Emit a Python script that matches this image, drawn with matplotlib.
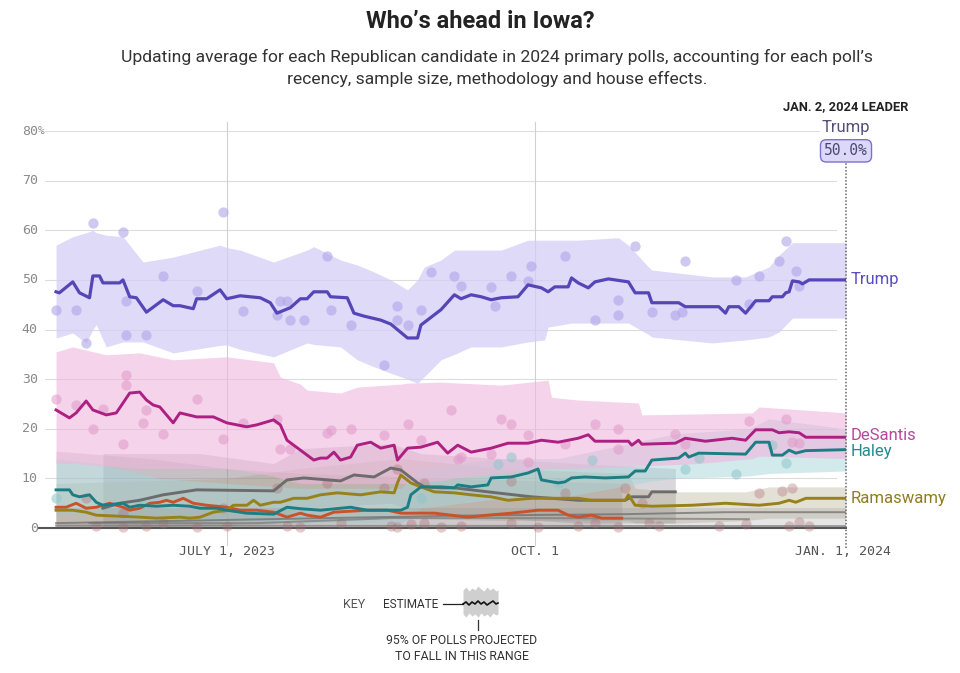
import matplotlib
matplotlib.use("Agg")
import matplotlib.pyplot as plt
import pandas as pd

plt.rcParams['font.family'] = ['Roboto', 'DejaVu Sans']

START = pd.Timestamp('2023-05-11')   # first day of the averages

# --- polling averages: days since START, percent ---
trump_day = [0, 1, 5, 7, 10, 11, 13, 14, 19, 20, 22, 24, 27, 32, 35, 37, 41, 42, 45, 49,
             51, 55, 61, 64, 66, 70, 73, 75, 77, 81, 82, 87, 89, 92, 97, 100, 105, 108, 109, 115,
             119, 121, 124, 127, 130, 133, 138, 141, 145, 147, 149, 153, 154, 156, 159, 161, 165, 171, 173, 177,
             178, 186, 188, 198, 200, 201, 204, 206, 209, 213, 214, 217, 218, 219, 220, 222, 223, 225, 236]
trump_val = [47.6, 47.4, 49.6, 47.4, 46.4, 50.8, 50.8, 49.4, 49.4, 50.0, 46.6, 46.4, 43.5, 46.0, 44.8, 44.8, 44.2, 46.2, 46.2, 48.0,
             46.2, 46.8, 46.4, 45.4, 43.3, 44.4, 46.2, 46.2, 47.6, 47.6, 46.6, 46.4, 43.3, 42.7, 41.9, 41.1, 38.3, 38.3, 40.9, 44.0,
             47.0, 46.2, 47.0, 46.6, 46.0, 46.4, 46.6, 49.0, 48.4, 47.6, 48.6, 48.6, 50.4, 49.4, 48.4, 49.6, 50.2, 49.6, 47.4, 47.4,
             45.4, 45.4, 44.6, 44.6, 43.3, 44.6, 44.6, 43.3, 45.8, 45.8, 46.6, 46.6, 47.4, 47.6, 49.8, 49.6, 49.2, 50.0, 50.0]

desantis_day = [0, 4, 6, 9, 11, 15, 18, 20, 22, 25, 27, 29, 31, 33, 35, 37, 42, 47, 51, 57,
                60, 65, 67, 69, 73, 77, 79, 81, 83, 85, 88, 90, 94, 97, 101, 102, 105, 109, 114, 117,
                120, 124, 130, 135, 141, 145, 150, 153, 156, 159, 161, 171, 172, 174, 175, 185, 188, 194, 202, 206,
                209, 214, 216, 219, 222, 224, 236]
desantis_val = [23.8, 22.2, 23.2, 25.6, 23.8, 22.8, 23.2, 25.2, 27.2, 27.4, 25.8, 24.8, 24.4, 22.8, 21.2, 23.2, 22.4, 22.4, 21.2, 20.4,
                20.8, 21.8, 20.8, 17.7, 15.7, 13.7, 14.1, 14.1, 15.3, 13.7, 14.3, 16.7, 17.3, 16.1, 16.7, 13.7, 16.1, 16.3, 17.3, 15.1,
                16.7, 15.3, 16.1, 17.1, 17.1, 17.7, 17.3, 17.7, 18.1, 18.8, 17.5, 17.5, 16.7, 17.7, 16.9, 17.1, 18.1, 17.5, 18.1, 17.7,
                19.8, 19.8, 19.2, 19.4, 19.2, 18.3, 18.3]

haley_day = [0, 4, 5, 7, 10, 12, 14, 20, 22, 25, 30, 35, 40, 43, 48, 51, 57, 65, 69, 73,
             79, 88, 93, 103, 105, 106, 109, 115, 119, 120, 124, 129, 130, 136, 141, 144, 145, 150, 152, 154,
             158, 164, 171, 173, 176, 178, 186, 188, 189, 192, 206, 209, 213, 214, 217, 219, 221, 224, 236]
haley_val = [7.7, 7.7, 6.7, 6.3, 6.7, 5.2, 4.6, 5.0, 4.2, 4.6, 4.4, 4.6, 4.4, 4.0, 4.0, 3.6, 3.0, 2.8, 4.2, 3.9,
             3.6, 4.2, 3.6, 3.6, 4.2, 6.7, 8.3, 8.3, 8.1, 8.7, 8.3, 8.7, 10.1, 10.3, 11.1, 11.9, 9.7, 9.1, 9.3, 10.1,
             10.3, 10.1, 10.3, 11.5, 11.5, 13.7, 14.1, 15.1, 14.3, 15.1, 14.9, 17.3, 17.3, 14.7, 14.7, 15.7, 15.1, 15.6, 15.8]

rama_day = [0, 5, 9, 12, 25, 30, 37, 40, 43, 47, 51, 53, 57, 59, 61, 65, 67, 71, 75, 79,
            84, 91, 97, 101, 102, 103, 106, 109, 113, 119, 124, 130, 135, 142, 148, 156, 160, 170, 171, 173,
            178, 190, 200, 210, 216, 219, 221, 224, 236]
rama_val = [3.6, 3.6, 3.2, 2.6, 2.2, 2.0, 2.2, 2.0, 2.2, 3.2, 3.6, 4.6, 4.6, 5.6, 4.6, 5.2, 5.2, 6.0, 6.0, 6.7,
            7.1, 6.7, 7.3, 7.1, 9.1, 10.7, 9.1, 8.3, 7.3, 7.1, 6.7, 6.3, 5.6, 6.0, 6.0, 6.0, 5.6, 5.6, 6.7, 4.6,
            4.4, 4.6, 5.0, 4.6, 5.0, 5.6, 5.2, 6.0, 6.0]

scott_day = [14, 19, 25, 32, 42, 65, 69, 74, 85, 89, 95, 100, 103, 108, 110, 115, 119, 129, 142, 156,
             170, 172, 177, 178, 185]
scott_val = [4.0, 5.0, 5.6, 6.7, 7.7, 7.5, 9.7, 10.1, 9.5, 10.7, 10.3, 12.1, 11.7, 9.1, 8.3, 8.1, 8.1, 7.3, 6.3, 5.6,
             5.6, 6.3, 6.3, 7.3, 7.3]

pence_day = [0, 3, 6, 9, 12, 16, 20, 22, 25, 28, 31, 33, 35, 38, 41, 45, 51, 55, 60, 65,
             69, 73, 75, 79, 83, 93, 99, 103, 113, 123, 129, 136, 144, 150, 153, 156, 160, 163, 169]
pence_val = [4.2, 4.2, 5.0, 4.0, 4.2, 5.0, 4.2, 3.6, 4.0, 5.0, 5.2, 5.6, 5.2, 6.0, 5.0, 4.6, 4.2, 3.6, 3.6, 3.2,
             2.2, 3.0, 2.6, 2.2, 3.2, 3.6, 3.6, 3.0, 3.0, 2.2, 2.6, 3.0, 3.6, 3.6, 2.6, 2.2, 2.6, 2.0, 2.0]

christie_day = [0, 40, 80, 120, 170, 200, 236]
christie_val = [1.0, 1.5, 2.0, 2.5, 2.8, 3.2, 3.2]
burgum_day = [10, 60, 100, 150, 207]
burgum_val = [1.0, 1.0, 2.0, 2.0, 1.8]
hutch_day = [0, 236]
hutch_val = [0.5, 0.4]

# --- 95% ranges: days, upper, lower ---
trump_band_day = [0, 5, 9, 11, 12, 15, 20, 26, 35, 49, 51, 55, 65, 75, 77, 85, 90, 95, 100, 105,
                  108, 110, 115, 119, 124, 133, 141, 146, 147, 154, 156, 168, 171, 177, 178, 196, 206, 213, 216, 220, 236]
trump_band_hi = [57, 58.7, 59.5, 60, 59.5, 59, 58.7, 53.6, 54.6, 57, 56.5, 56, 53.6, 56, 56.7, 54, 53, 51.6, 50, 48,
                 50, 52.6, 54, 56, 56, 56, 58, 58, 58, 58, 58, 58.5, 57, 52.6, 52, 50.6, 50.6, 52.6, 55, 57.5, 57.5]
trump_band_lo = [38.3, 39.3, 37.3, 40, 41, 36.5, 37.5, 37.5, 35.3, 36.8, 36.9, 36, 34.5, 37.3, 37, 36.5, 33.9, 32.5, 31.2, 30,
                 29.2, 30.5, 33.9, 35, 36.5, 36.5, 37.5, 37.9, 40.5, 41.3, 41.3, 41.3, 41.3, 39, 38.5, 37.3, 37.9, 38.5, 39.5, 42.3, 42.3]

desantis_band_day = [0, 5, 15, 25, 35, 51, 65, 67, 73, 75, 85, 90, 103, 105, 115, 118, 133, 147, 148, 150,
                     156, 174, 175, 192, 208, 210, 236]
desantis_band_hi = [35.5, 36.5, 34.9, 35.3, 33.9, 34.5, 33.3, 30.4, 29, 27.8, 27.2, 28.4, 29, 29.2, 29.4, 29.3, 28.8, 29.8, 26.4, 26.2,
                    25.8, 25.2, 22.8, 23, 23.2, 24.4, 23.2]
desantis_band_lo = [13, 13, 12.5, 12, 12, 12, 10.5, 10, 9, 9, 9, 9, 9, 9, 9.5, 10, 11, 12, 12, 12,
                    12, 12.5, 12.5, 13, 14, 14.5, 14]

haley_band_day = [0, 13, 19, 31, 51, 73, 103, 106, 109, 133, 150, 178, 185, 207, 213, 236]
haley_band_hi = [14, 13, 12, 10, 9, 8, 8, 10, 12, 14, 14, 18, 19, 20, 22, 20]
haley_band_lo = [3, 2.5, 2, 1.5, 1, 1, 1, 2, 4, 6, 6, 9.5, 10, 10.5, 11, 11.5]

rama_band_day = [0, 51, 73, 103, 133, 171, 173, 185, 206, 213, 236]
rama_band_hi = [9, 10, 12, 14, 12, 11, 8, 7.3, 7.3, 8.3, 8.3]
rama_band_lo = [0, 0.5, 1, 2, 1.5, 1.5, 1, 1, 1.5, 2, 2]

scott_band_day = [14, 43, 65, 73, 100, 109, 133, 156, 185]
scott_band_hi = [15, 15, 13, 16, 17, 15, 14, 13, 12]
scott_band_lo = [0, 0.5, 1, 4, 5, 3, 2, 1, 1]

pence_band_day = [0, 28, 51, 73, 120, 169]
pence_band_hi = [15.5, 14, 12, 11, 10, 9]
pence_band_lo = [0, 0, 0, 0, 0, 0]

# --- individual polls ---
trump_poll_day = [0, 6, 9, 11, 20, 21, 21, 27, 32, 42, 50, 56, 66, 67, 69, 70, 74, 81, 82, 88,
                  98, 102, 102, 105, 109, 112, 119, 121, 130, 131, 136, 141, 142, 152, 161, 168, 168, 173, 178, 185,
                  187, 188, 203, 207, 210, 216, 218, 221, 222]
trump_poll_val = [44, 44, 37.3, 61.5, 59.7, 45.8, 38.9, 38.9, 50.8, 47.8, 63.7, 43.8, 43, 45.8, 45.8, 41.9, 41.9, 54.8, 44, 40.9,
                  32.9, 44.8, 41.9, 40.9, 44, 51.6, 50.8, 48.8, 48.6, 44.8, 50.8, 49.8, 52.8, 54.8, 41.9, 46, 42.9, 56.9, 43.5, 42.9,
                  43.5, 53.8, 50, 45.2, 50.8, 53.8, 57.9, 51.8, 48.8]
desantis_poll_day = [0, 6, 11, 14, 20, 21, 21, 26, 27, 32, 42, 50, 56, 66, 67, 70, 81, 82, 88, 98,
                     105, 109, 118, 120, 121, 130, 133, 136, 141, 141, 152, 161, 168, 168, 185, 188, 207, 218, 220, 222]
desantis_poll_val = [26, 24.8, 20, 24, 16.9, 30.8, 28.8, 21.2, 23.8, 19, 26, 17.9, 21.2, 22, 15.9, 15.9, 19.2, 19.8, 20, 18.8,
                     21, 17.7, 23.8, 13.9, 14.3, 14.9, 22, 21, 18.8, 13.3, 16.9, 21, 20, 15.9, 19, 16.9, 21.6, 22, 17.3, 17.1]
haley_poll_day = [0, 25, 73, 109, 132, 136, 150, 160, 188, 192, 203, 214, 218]
haley_poll_val = [6, 5, 3, 6, 12.9, 14.3, 9, 13.7, 11.9, 14.1, 10.9, 16.7, 13.1]
other_poll_day = [9, 12, 20, 20, 27, 32, 42, 50, 51, 66, 69, 73, 81, 85, 98, 100, 102, 102, 106, 110,
                  110, 115, 121, 136, 136, 144, 152, 156, 161, 168, 170, 175, 177, 180, 198, 206, 210, 217, 219, 220,
                  222, 225]
other_poll_val = [6, 0.5, 3, 0.3, 0.5, 1, 0.3, 4, 0.5, 8, 0.5, 0.3, 9, 1, 8, 0.5, 12, 0.3, 0.8, 9,
                  1, 0.3, 0.5, 9.5, 1, 0.3, 7, 0.5, 1, 0.3, 8, 5, 1, 0.5, 0.5, 0.8, 7, 7.5, 0.5, 8,
                  1.2, 0.5]

y_ticks = [0, 10, 20, 30, 40, 50, 60, 70, 80]
x_ticks = ['2023-07-01', '2023-10-01', '2024-01-01']
x_tick_labels = ['JULY 1, 2023', 'OCT. 1', 'JAN. 1, 2024']
LEADER_DAY = '2024-01-02'

# key glyph (pixel units of the key box)
key_x = [463, 466, 469, 472, 475, 478, 481, 484, 487, 490, 493, 496, 498]
key_hi = [590, 587, 591, 588, 590, 586, 589, 591, 587, 590, 588, 591, 590]
key_lo = [614, 617, 613, 616, 614, 617, 613, 616, 614, 617, 613, 615, 614]
key_mid = [604, 602, 605, 602, 604, 601, 604, 602, 605, 603, 601, 604, 603]

PURPLE = '#5546b8'
MAGENTA = '#ad1f80'
TEAL = '#1d7d84'
OLIVE = '#97821a'
GREY = '#6c6c6c'
ORANGE = '#c8532a'


def d(days):
    return START + pd.to_timedelta(days, unit='D')


fig = plt.figure(figsize=(9.6, 6.73), dpi=100)
ax = fig.add_axes([45 / 960, 1 - 538 / 673, 801 / 960, 407 / 673])
ax.set_xlim(d(-3.3), d(236))
ax.set_ylim(-2, 80)
ax.axis('off')

# grid
for y in y_ticks[1:]:
    ax.plot([d(-3.3), d(233)], [y, y], color='#dcdcdc', lw=0.8, zorder=0)
for t in x_ticks[:2]:
    ax.plot([pd.Timestamp(t)] * 2, [-3.4, 81.9], color='#d0d0d0', lw=0.8, zorder=0, clip_on=False)
ax.plot([d(-5), d(236)], [0, 0], color='#555555', lw=1.5, zorder=1.5, clip_on=False)

# ranges
bands = [
    (pence_band_day, pence_band_lo, pence_band_hi, '#a88f9a', 0.32),
    (scott_band_day, scott_band_lo, scott_band_hi, '#8a8590', 0.32),
    (rama_band_day, rama_band_lo, rama_band_hi, '#a8a080', 0.32),
    (haley_band_day, haley_band_lo, haley_band_hi, '#a6d6da', 0.5),
    (desantis_band_day, desantis_band_lo, desantis_band_hi, '#efb6dc', 0.6),
    (trump_band_day, trump_band_lo, trump_band_hi, '#d4cef6', 0.75),
]
for day, lo, hi, c, a in bands:
    ax.fill_between(d(day), lo, hi, color=c, alpha=a, lw=0, zorder=1)
ax.fill_between(d([0, 236]), [0, 0], [4, 4], color='#8c8c8c', alpha=0.22, lw=0, zorder=1)

# polls
ax.scatter(d(other_poll_day), other_poll_val, s=55, color='#b06a72', alpha=0.35, lw=0, zorder=2, clip_on=False)
ax.scatter(d(haley_poll_day), haley_poll_val, s=55, color='#8fc6cb', alpha=0.55, lw=0, zorder=2)
ax.scatter(d(desantis_poll_day), desantis_poll_val, s=55, color='#e09aca', alpha=0.55, lw=0, zorder=2)
ax.scatter(d(trump_poll_day), trump_poll_val, s=55, color='#b0a6ea', alpha=0.6, lw=0, zorder=2)

# averages
ax.plot(d(hutch_day), hutch_val, color='#7a7a7a', lw=1.4, alpha=0.7, zorder=3)
ax.plot(d(burgum_day), burgum_val, color='#7a7a7a', lw=1.4, alpha=0.7, zorder=3)
ax.plot(d(christie_day), christie_val, color='#6a6a6a', lw=1.4, alpha=0.7, zorder=3)
ax.plot(d(pence_day), pence_val, color=ORANGE, lw=2.1, zorder=3)
ax.plot(d(scott_day), scott_val, color=GREY, lw=2.1, zorder=3)
ax.plot(d(rama_day), rama_val, color=OLIVE, lw=2.1, zorder=3)
ax.plot(d(haley_day), haley_val, color=TEAL, lw=2.1, zorder=3)
ax.plot(d(desantis_day), desantis_val, color=MAGENTA, lw=2.1, zorder=3)
ax.plot(d(trump_day), trump_val, color=PURPLE, lw=2.3, zorder=3)

# end labels (small vertical nudges keep DeSantis/Haley apart)
for name, vals, c, dy in [('Trump', trump_val, '#5a4fc0', 0), ('DeSantis', desantis_val, '#b6489c', 1.5),
                          ('Haley', haley_val, '#268891', -1.5), ('Ramaswamy', rama_val, '#8f7d20', 0)]:
    ax.annotate(name, xy=(pd.Timestamp(LEADER_DAY), vals[-1]), xytext=(3, dy),
                textcoords='offset points', ha='left', va='center', fontsize=12, color=c)

# y tick labels
ytr = ax.get_yaxis_transform()
for y in y_ticks:
    ax.text(-0.009, y, str(y), transform=ytr, ha='right', va='center',
            fontsize=9.5, color='#8a8a8a', family='DejaVu Sans Mono')
ax.text(-0.009, 80, '%', transform=ytr, ha='left', va='center',
        fontsize=8, color='#8a8a8a', family='DejaVu Sans Mono')

# x tick labels
for t, lab in zip(x_ticks, x_tick_labels):
    ax.text(pd.Timestamp(t), -4.7, lab, ha='center', va='center', fontsize=9.5,
            color='#555555', family='DejaVu Sans Mono', clip_on=False)

# leader marker
lead = pd.Timestamp(LEADER_DAY)
ax.plot([lead] * 2, [-4, 78], color='#666666', lw=1.1, ls=(0, (1, 1.2)), zorder=4, clip_on=False)
ax.text(lead, 84.9, 'JAN. 2, 2024 LEADER', ha='center', va='center', fontsize=9.3,
        fontweight='bold', color='#222222')
ax.text(lead, 80.8, 'Trump', ha='center', va='center', fontsize=12, color='#55507a',
        bbox=dict(boxstyle='square,pad=0.1', fc='white', ec='none'))
ax.text(lead, 76.0, f'{trump_val[-1]:.1f}%', ha='center', va='center', fontsize=10.5,
        color='#4a4870', family='DejaVu Sans Mono', zorder=6,
        bbox=dict(boxstyle='round,pad=0.25,rounding_size=0.4', fc='#ddd8fa', ec='#7d70d2', lw=1))

# titles
fig.text(0.5, 1 - 22 / 673, 'Who’s ahead in Iowa?', ha='center', va='center',
         fontsize=17, fontweight='bold', color='#222222')
fig.text(497 / 960, 1 - 57 / 673,
         'Updating average for each Republican candidate in 2024 primary polls, accounting for each poll’s',
         ha='center', va='center', fontsize=12.6, color='#333333')
fig.text(497 / 960, 1 - 79 / 673, 'recency, sample size, methodology and house effects.',
         ha='center', va='center', fontsize=12.6, color='#333333')

# key
kax = fig.add_axes([436 / 960, 1 - 634 / 673, 66 / 960, 52 / 673])
kax.set_xlim(436, 502)
kax.set_ylim(634, 582)
kax.axis('off')
kax.fill_between(key_x, key_lo, key_hi, color='#cfcfcf', lw=0)
kax.plot([443, 463], [604, 604], color='#222222', lw=0.9)
kax.plot(key_x, key_mid, color='#111111', lw=1.2)
kax.plot([478, 478], [620, 630], color='#333333', lw=0.9)
fig.text(354 / 960, 1 - 604 / 673, 'KEY', ha='center', va='center', fontsize=9, color='#555555')
fig.text(411 / 960, 1 - 604 / 673, 'ESTIMATE', ha='center', va='center', fontsize=8.5, color='#333333')
fig.text(462 / 960, 1 - 640 / 673, '95% OF POLLS PROJECTED', ha='center', va='center',
         fontsize=8.8, color='#333333')
fig.text(462 / 960, 1 - 657 / 673, 'TO FALL IN THIS RANGE', ha='center', va='center',
         fontsize=8.8, color='#333333')

fig.savefig('out.png', dpi=100, facecolor='white')
